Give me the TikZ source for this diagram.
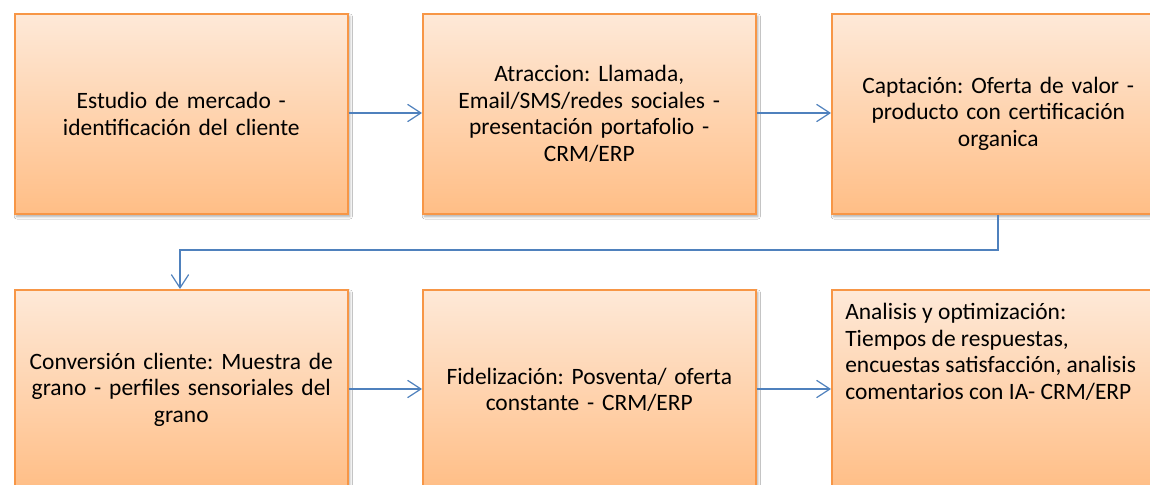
\documentclass[tikz,border=0pt]{standalone}
\usepackage{fontspec}
\setmainfont{Carlito}
\usetikzlibrary{arrows.meta,shadows.blur}
\definecolor{boxtop}{RGB}{254,233,216}
\definecolor{boxbot}{RGB}{255,190,134}
\definecolor{boxline}{RGB}{247,150,70}
\definecolor{arrowblue}{RGB}{79,129,189}
\tikzset{
  boxfont/.style={font=\fontsize{17.6pt}{20pt}\selectfont\frenchspacing},
  stepbox/.style={rectangle, draw=boxline, line width=1.2pt, top color=boxtop, bottom color=boxbot,
    minimum width=249.75pt, minimum height=150pt, anchor=north west, inner sep=0pt,
    align=center, text width=248pt, boxfont,
    blur shadow={shadow xshift=1.5pt, shadow yshift=-2pt, shadow blur steps=6, shadow opacity=35}},
  conn/.style={draw=arrowblue, line width=1pt, -{Straight Barb[length=10pt,width=13pt,line width=0.9pt]}}
}
\begin{document}
\begin{tikzpicture}[x=0.75pt,y=-0.75pt]
\clip (0,0) rectangle (1150,485);
\fill[white] (0,0) rectangle (1150,485);
\node[stepbox] (b1) at (14,13) {Estudio de mercado -\\identificación del cliente};
\node[stepbox] (b2) at (422,13) {Atraccion: Llamada,\\Email/SMS/redes sociales -\\presentación portafolio -\\CRM/ERP};
\node[stepbox] (b3) at (831,13) {Captación: Oferta de valor -\\producto con certificación\\organica};
\node[stepbox] (b4) at (14,289) {Conversión cliente: Muestra de\\grano - perfiles sensoriales del\\grano};
\node[stepbox] (b5) at (422,289) {Fidelización: Posventa/ oferta\\constante - CRM/ERP};
\node[stepbox] (b6) at (831,289) {};
\node[anchor=north west, align=left, inner sep=0pt, boxfont] (t6) at (845,303)
  {Analisis y optimización:\\Tiempos de respuestas,\\encuestas satisfacción, analisis\\comentarios con IA- CRM/ERP};
\coordinate (e1) at (998,250);
\coordinate (e2) at (180,250);
\draw[conn] (b1.east |- 0,113) -- (b2.west |- 0,113);
\draw[conn] (b2.east |- 0,113) -- (b3.west |- 0,113);
\draw[conn] (b3.south -| e1) -- (e1) -- (e2) -- (e2 |- b4.north);
\draw[conn] (b4.east |- 0,389) -- (b5.west |- 0,389);
\draw[conn] (b5.east |- 0,389) -- (b6.west |- 0,389);
\end{tikzpicture}
\end{document}
